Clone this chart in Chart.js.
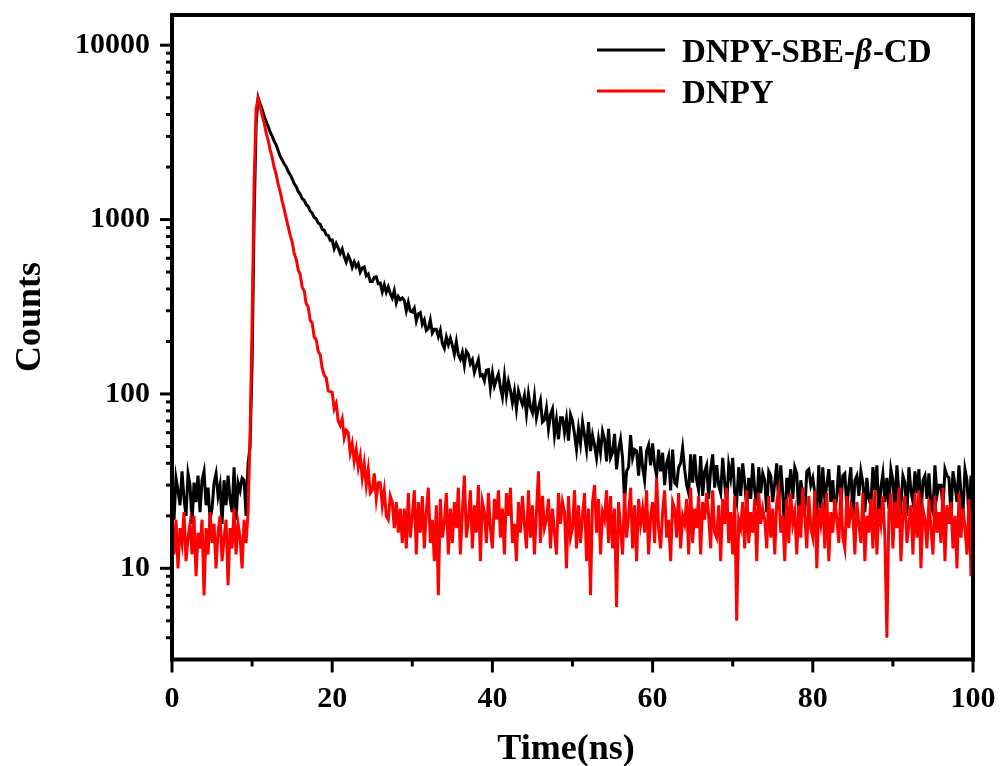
<!DOCTYPE html>
<html><head><meta charset="utf-8">
<script src="https://cdn.jsdelivr.net/npm/chart.js@4/dist/chart.umd.min.js"></script>
<style>html,body{margin:0;padding:0;background:#fff;}#wrap{width:1000px;height:766px;position:relative;}</style>
</head><body><div id="wrap"><canvas id="c" width="1000" height="766"></canvas></div>
<script>
// TCSPC channel width (ns); sample i is at i * channelWidthNs
const channelWidthNs = 0.25;

// DNPY-SBE-β-CD counts (black), one row of 4 channels per ns
const blackCounts = [
31,19,33,28, 23,36,25,20, 35,30,18,31, 24,34,21,32, 36,23,29,19,
22,31,35,26, 30,18,32,23, 34,25,21,38, 19,31,28,33, 32,20,40,50,
150,1000,3500,5000, 4620,4300,3920,3660, 3420,3180,3010,2820, 2680,2490,2310,2200, 2090,2010,1890,1810,
1720,1610,1550,1450, 1400,1320,1290,1220, 1190,1120,1090,1030, 1010,955,940,880, 870,820,810,760,
763,681,729,687, 640,678,613,571, 622,588,533,572, 535,559,500,529, 535,476,487,441,
441,466,469,429, 432,385,422,383, 411,376,355,391, 333,362,347,355, 344,300,336,298,
295,310,262,288, 293,251,266,231, 237,266,224,235, 235,213,232,195, 183,212,192,209,
190,169,199,167, 158,173,146,176, 169,149,157,133, 145,157,127,129, 119,137,138,108,
132,111,121,130, 109,96,126,98, 118,105,89,104, 82,104,94,87, 98,77,100,84,
78,97,73,83, 92,69,71,83, 63,76,82,58, 71,55,73,73, 60,72,54,76,
70,59,48,63, 52,69,58,48, 69,47,58,51, 43,55,46,61, 55,41,63,43,
46,59,37,48, 55,43,24,36, 38,58,43,48, 47,34,50,38, 32,47,51,39,
52,39,34,48, 36,46,30,40, 44,28,48,31, 30,38,40,49, 37,30,27,45,
31,45,32,28, 44,26,36,39, 25,37,45,29, 39,30,27,43, 31,23,39,33,
43,27,24,38, 26,40,31,22, 33,25,40,28, 23,38,27,35, 32,21,36,34,
24,31,40,23, 39,27,15,33, 28,37,25,38, 35,20,32,26, 21,36,37,30,
33,27,20,39, 22,38,25,30, 37,24,32,21, 26,39,23,34, 35,22,30,38,
19,32,34,26, 36,31,21,33, 25,23,38,28, 39,20,29,35, 24,33,22,37,
32,21,39,27, 23,34,31,20, 38,28,24,36, 27,37,19,32, 34,25,35,23,
21,39,26,30, 30,22,37,34, 33,20,36,30, 24,39,27,21, 37,32,19,34,
26
];

// DNPY counts (red), one row of 4 channels per ns
const redCounts = [
16,12,19,10, 17,14,21,11, 15,18,12,20, 9,16,13,19, 7,17,12,21,
14,18,10,16, 20,11,15,19, 8,17,13,22, 12,18,15,10, 19,14,21,60,
250,1600,4300,4950, 4480,3960,3590,3150, 2860,2510,2280,1990, 1820,1590,1450,1280, 1150,1020,915,815,
745,640,595,515, 485,410,390,330, 315,265,255,212, 205,176,168,141, 128,124,104,103,
102,82,88,70, 66,72,56,62, 60,46,52,41, 48,38,44,33, 40,30,37,27,
28,35,25,31, 31,23,28,20, 19,26,24,17, 24,16,22,14, 22,13,27,15,
20,28,12,24, 16,26,13,21, 29,14,19,11, 23,7,25,15, 18,27,12,22,
14,24,17,29, 12,21,34,15, 19,28,13,23, 16,30,11,24, 21,14,27,17,
13,25,19,28, 15,22,12,27, 20,29,14,18, 11,24,16,26, 18,13,28,15,
23,12,21,36, 14,26,17,19, 25,13,22,16, 12,27,18,24, 21,10,26,15,
17,28,13,23, 14,20,27,11, 22,7,24,30, 16,25,12,21, 19,28,14,26,
13,22,6,24, 17,12,27,15, 20,29,13,23, 11,25,18,22, 16,28,12,20,
24,14,33,17, 13,21,28,15, 19,11,24,22, 15,27,13,20, 18,25,12,29,
14,22,17,26, 12,24,19,27, 20,13,28,16, 15,23,11,25, 18,29,14,21,
12,26,5,19, 17,24,13,28, 14,21,16,25, 11,27,18,22, 19,13,26,15,
22,12,24,28, 16,20,11,25, 14,27,18,21, 12,23,15,29, 20,13,26,17,
15,28,10,22, 18,24,13,27, 11,21,16,25, 19,14,29,15, 13,26,17,23,
21,12,24,18, 14,27,11,20, 16,25,13,28, 12,22,18,26, 15,4,21,27,
13,24,17,29, 11,20,26,14, 18,23,12,27, 15,28,10,22, 19,13,25,17,
12,26,16,21, 14,29,11,23, 18,24,13,20, 10,27,15,22, 17,12,25,9,
14
];

const seriesNames = ['DNPY-SBE-β-CD', 'DNPY'];
const seriesColors = ['#000000', '#ff0000'];
const xTickValues = [0,10,20,30,40,50,60,70,80,90,100];
const xLabelValues = [0,20,40,60,80,100];
const yMajorTicks = [10,100,1000,10000];
const yMinorTicks = [4,5,6,7,8,9,20,30,40,50,60,70,80,90,200,300,400,500,600,700,800,900,2000,3000,4000,5000,6000,7000,8000,9000];
const xTitle = 'Time(ns)';
const yTitle = 'Counts';

const toPoints = arr => arr.map((v, i) => ({x: i * channelWidthNs, y: v}));

const FONT = '"Liberation Serif", "Times New Roman", serif';

const zeroPad = s => { s.paddingLeft = 0; s.paddingRight = 0; s.paddingTop = 0; s.paddingBottom = 0; };

const decorPlugin = {
  id: 'decor',
  afterDraw(chart) {
    const {ctx, chartArea: a, scales: {x, y}} = chart;
    ctx.save();
    ctx.strokeStyle = '#000';
    ctx.lineCap = 'butt';
    ctx.lineWidth = 3;
    xTickValues.forEach(v => {
      const px = x.getPixelForValue(v);
      const len = xLabelValues.includes(v) ? 13 : 7;
      ctx.beginPath(); ctx.moveTo(px, a.bottom); ctx.lineTo(px, a.bottom + len); ctx.stroke();
    });
    yMajorTicks.forEach(v => {
      const py = y.getPixelForValue(v);
      ctx.beginPath(); ctx.moveTo(a.left, py); ctx.lineTo(a.left - 12, py); ctx.stroke();
    });
    yMinorTicks.forEach(v => {
      const py = y.getPixelForValue(v);
      ctx.beginPath(); ctx.moveTo(a.left, py); ctx.lineTo(a.left - 6, py); ctx.stroke();
    });
    ctx.lineWidth = 4;
    ctx.strokeRect(a.left, a.top, a.right - a.left, a.bottom - a.top);

    // axis titles
    ctx.fillStyle = '#000';
    ctx.font = 'bold 36px ' + FONT;
    ctx.textAlign = 'center';
    ctx.textBaseline = 'alphabetic';
    ctx.fillText(xTitle, 566, 759);
    ctx.save();
    ctx.translate(40, 317);
    ctx.rotate(-Math.PI / 2);
    ctx.fillText(yTitle, 0, 0);
    ctx.restore();

    // legend
    const lx0 = 597, lx1 = 665, tx = 682;
    const rows = [50, 91];
    ctx.lineWidth = 3;
    ctx.textAlign = 'left';
    rows.forEach((ry, i) => {
      ctx.strokeStyle = seriesColors[i];
      ctx.beginPath(); ctx.moveTo(lx0, ry); ctx.lineTo(lx1, ry); ctx.stroke();
    });
    const base0 = rows[0] + 12, base1 = rows[1] + 12;
    const parts = seriesNames[0].split('β');
    let cx = tx;
    ctx.font = 'bold 33px ' + FONT;
    ctx.fillText(parts[0], cx, base0); cx += ctx.measureText(parts[0]).width;
    ctx.font = 'italic bold 33px ' + FONT;
    ctx.fillText('β', cx, base0); cx += ctx.measureText('β').width + 1;
    ctx.font = 'bold 33px ' + FONT;
    ctx.fillText(parts[1], cx, base0);
    ctx.fillText(seriesNames[1], tx, base1);
    ctx.restore();
  }
};

new Chart(document.getElementById('c'), {
  type: 'line',
  data: {
    datasets: [
      {label: seriesNames[1], data: toPoints(redCounts), borderColor: seriesColors[1], borderWidth: 3, pointRadius: 0, tension: 0, order: 0},
      {label: seriesNames[0], data: toPoints(blackCounts), borderColor: seriesColors[0], borderWidth: 3, pointRadius: 0, tension: 0, order: 1}
    ]
  },
  options: {
    responsive: false,
    animation: false,
    events: [],
    layout: {padding: {top: 15, right: 27, left: 0, bottom: 0}},
    plugins: {legend: {display: false}, tooltip: {enabled: false}},
    scales: {
      x: {
        type: 'linear', min: 0, max: 100,
        grid: {display: false, drawTicks: false},
        border: {display: false},
        afterBuildTicks: s => { s.ticks = xLabelValues.map(v => ({value: v})); },
        afterFit: s => { s.height = 106.5; zeroPad(s); },
        ticks: {
          color: '#000', padding: 22, maxRotation: 0, autoSkip: false,
          font: {family: FONT, size: 30, weight: 'bold'},
          callback: v => String(v)
        }
      },
      y: {
        type: 'logarithmic', min: 3, max: 14900,
        grid: {display: false, drawTicks: false},
        border: {display: false},
        afterBuildTicks: s => { s.ticks = yMajorTicks.map(v => ({value: v})); },
        afterFit: s => { s.width = 172; zeroPad(s); },
        ticks: {
          color: '#000', padding: 22, autoSkip: false,
          font: {family: FONT, size: 30, weight: 'bold'},
          callback: v => String(v)
        }
      }
    }
  },
  plugins: [decorPlugin]
});
</script>
</body></html>
